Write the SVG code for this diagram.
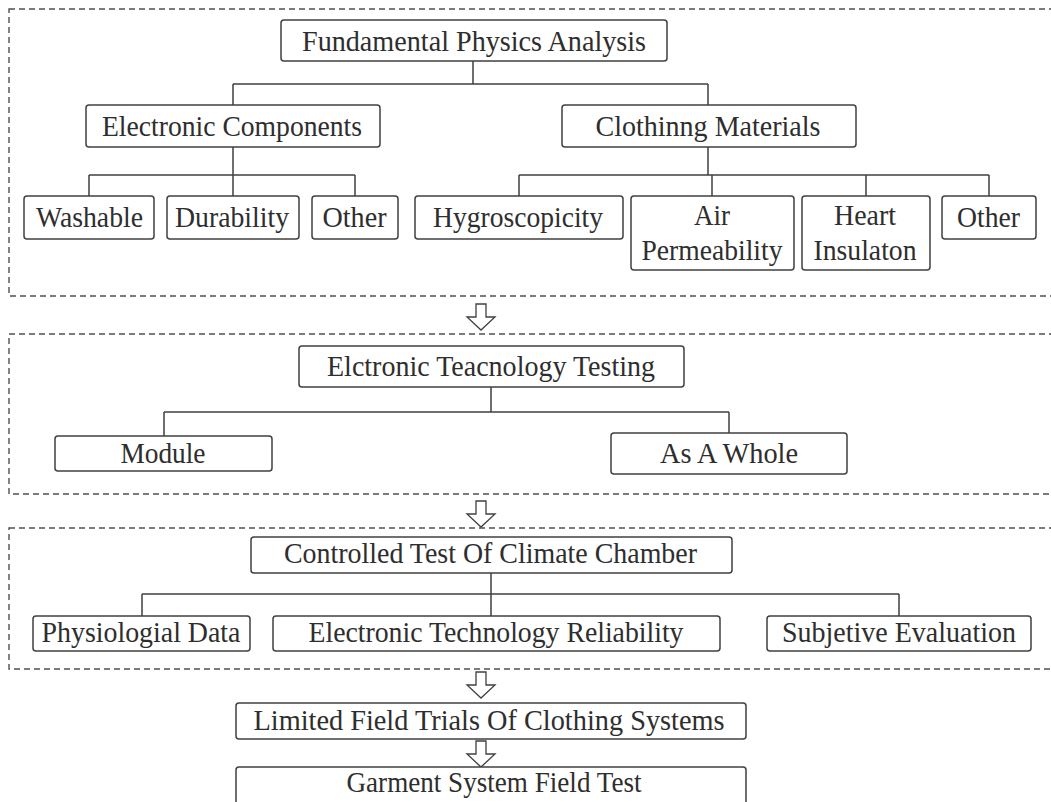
<svg xmlns="http://www.w3.org/2000/svg" width="1051" height="802" viewBox="0 0 1051 802">
  <style>
    .frame { fill: none; stroke: #505050; stroke-width: 1.4; stroke-dasharray: 6 4; }
    .box { fill: #ffffff; stroke: #404040; stroke-width: 1.5; }
    .link { fill: none; stroke: #404040; stroke-width: 1.5; }
    .flow { fill: #ffffff; stroke: #404040; stroke-width: 1.3; stroke-linejoin: miter; }
    text { font-family: "Liberation Serif", "Times New Roman", serif; font-size: 30px; fill: #2e2e2e; text-anchor: middle; }
  </style>
  <defs>
    <!-- hollow block arrow, tip at (0,0) -->
    <path id="blockArrow" d="M -5 -26 H 5 V -13 H 14 L 0 0 L -14 -13 H -5 Z"/>
  </defs>

  <rect width="1051" height="802" fill="#ffffff"/>

  <!-- stage frames -->
  <g id="frames">
    <rect class="frame" x="9" y="9" width="1060" height="287"/>
    <rect class="frame" x="9" y="334" width="1060" height="160"/>
    <rect class="frame" x="9" y="528" width="1060" height="141"/>
  </g>

  <!-- connectors -->
  <g id="connectors">
    <path class="link" d="M473 61 V84 M233 84 H708 M233 84 V105 M708 84 V105"/>
    <path class="link" d="M233 147 V196 M89 175 H355 M89 175 V196 M355 175 V196"/>
    <path class="link" d="M708 147 V175 M519 175 H989 M519 175 V196 M712 175 V196 M866 175 V196 M989 175 V196"/>
    <path class="link" d="M491 387 V412 M164 412 H729 M164 412 V436 M729 412 V433"/>
    <path class="link" d="M491 573 V616 M142 594 H899 M142 594 V616 M899 594 V616"/>
    <use href="#blockArrow" class="flow" x="481" y="330"/>
    <use href="#blockArrow" class="flow" x="481" y="527"/>
    <use href="#blockArrow" class="flow" x="481" y="698"/>
    <use href="#blockArrow" class="flow" x="481" y="767"/>
  </g>

  <!-- stage 1 -->
  <g id="fundamental">
    <rect class="box" x="281" y="20" width="386" height="41" rx="3"/>
    <text x="474" y="51" textLength="344" lengthAdjust="spacingAndGlyphs">Fundamental Physics Analysis</text>
  </g>
  <g id="electronic-components">
    <rect class="box" x="86" y="105" width="294" height="42" rx="3"/>
    <text x="232" y="136" textLength="260" lengthAdjust="spacingAndGlyphs">Electronic Components</text>
  </g>
  <g id="clothing-materials">
    <rect class="box" x="562" y="105" width="294" height="42" rx="3"/>
    <text x="708" y="136" textLength="225" lengthAdjust="spacingAndGlyphs">Clothinng Materials</text>
  </g>
  <g id="washable">
    <rect class="box" x="24" y="196" width="130" height="43" rx="3"/>
    <text x="89.5" y="227" textLength="107" lengthAdjust="spacingAndGlyphs">Washable</text>
  </g>
  <g id="durability">
    <rect class="box" x="167" y="196" width="132" height="43" rx="3"/>
    <text x="232" y="227" textLength="114" lengthAdjust="spacingAndGlyphs">Durability</text>
  </g>
  <g id="other-components">
    <rect class="box" x="312" y="196" width="86" height="43" rx="3"/>
    <text x="354.5" y="227" textLength="64" lengthAdjust="spacingAndGlyphs">Other</text>
  </g>
  <g id="hygroscopicity">
    <rect class="box" x="415" y="196" width="208" height="43" rx="3"/>
    <text x="518" y="227" textLength="170" lengthAdjust="spacingAndGlyphs">Hygroscopicity</text>
  </g>
  <g id="air-permeability">
    <rect class="box" x="631" y="196" width="163" height="74" rx="3"/>
    <text x="712" y="225" textLength="36" lengthAdjust="spacingAndGlyphs">Air</text>
    <text x="712" y="260" textLength="141" lengthAdjust="spacingAndGlyphs">Permeability</text>
  </g>
  <g id="heat-insulation">
    <rect class="box" x="802" y="196" width="128" height="74" rx="3"/>
    <text x="865" y="225" textLength="62" lengthAdjust="spacingAndGlyphs">Heart</text>
    <text x="865" y="260" textLength="103" lengthAdjust="spacingAndGlyphs">Insulaton</text>
  </g>
  <g id="other-materials">
    <rect class="box" x="942" y="196" width="94" height="43" rx="3"/>
    <text x="988.5" y="227" textLength="63" lengthAdjust="spacingAndGlyphs">Other</text>
  </g>

  <!-- stage 2 -->
  <g id="tech-testing">
    <rect class="box" x="299" y="346" width="385" height="41" rx="3"/>
    <text x="491" y="376" textLength="328" lengthAdjust="spacingAndGlyphs">Elctronic Teacnology Testing</text>
  </g>
  <g id="module">
    <rect class="box" x="55" y="436" width="217" height="35" rx="3"/>
    <text x="163" y="463" textLength="85" lengthAdjust="spacingAndGlyphs">Module</text>
  </g>
  <g id="whole">
    <rect class="box" x="611" y="433" width="236" height="41" rx="3"/>
    <text x="729" y="463" textLength="138" lengthAdjust="spacingAndGlyphs">As A Whole</text>
  </g>

  <!-- stage 3 -->
  <g id="climate-chamber">
    <rect class="box" x="251" y="537" width="481" height="36" rx="3"/>
    <text x="490.5" y="563" textLength="413" lengthAdjust="spacingAndGlyphs">Controlled Test Of Climate Chamber</text>
  </g>
  <g id="physiological">
    <rect class="box" x="33" y="616" width="217" height="35" rx="3"/>
    <text x="141" y="642" textLength="199" lengthAdjust="spacingAndGlyphs">Physiologial Data</text>
  </g>
  <g id="reliability">
    <rect class="box" x="273" y="616" width="447" height="35" rx="3"/>
    <text x="496" y="642" textLength="375" lengthAdjust="spacingAndGlyphs">Electronic Technology Reliability</text>
  </g>
  <g id="subjective">
    <rect class="box" x="767" y="616" width="264" height="35" rx="3"/>
    <text x="899" y="642" textLength="234" lengthAdjust="spacingAndGlyphs">Subjetive Evaluation</text>
  </g>

  <!-- stage 4 and 5 -->
  <g id="limited-trials">
    <rect class="box" x="236" y="703" width="510" height="36" rx="3"/>
    <text x="489" y="730" textLength="471" lengthAdjust="spacingAndGlyphs">Limited Field Trials Of Clothing Systems</text>
  </g>
  <g id="field-test">
    <rect class="box" x="236" y="767" width="510" height="60" rx="3"/>
    <text x="494" y="792" textLength="295" lengthAdjust="spacingAndGlyphs">Garment System Field Test</text>
  </g>
</svg>
